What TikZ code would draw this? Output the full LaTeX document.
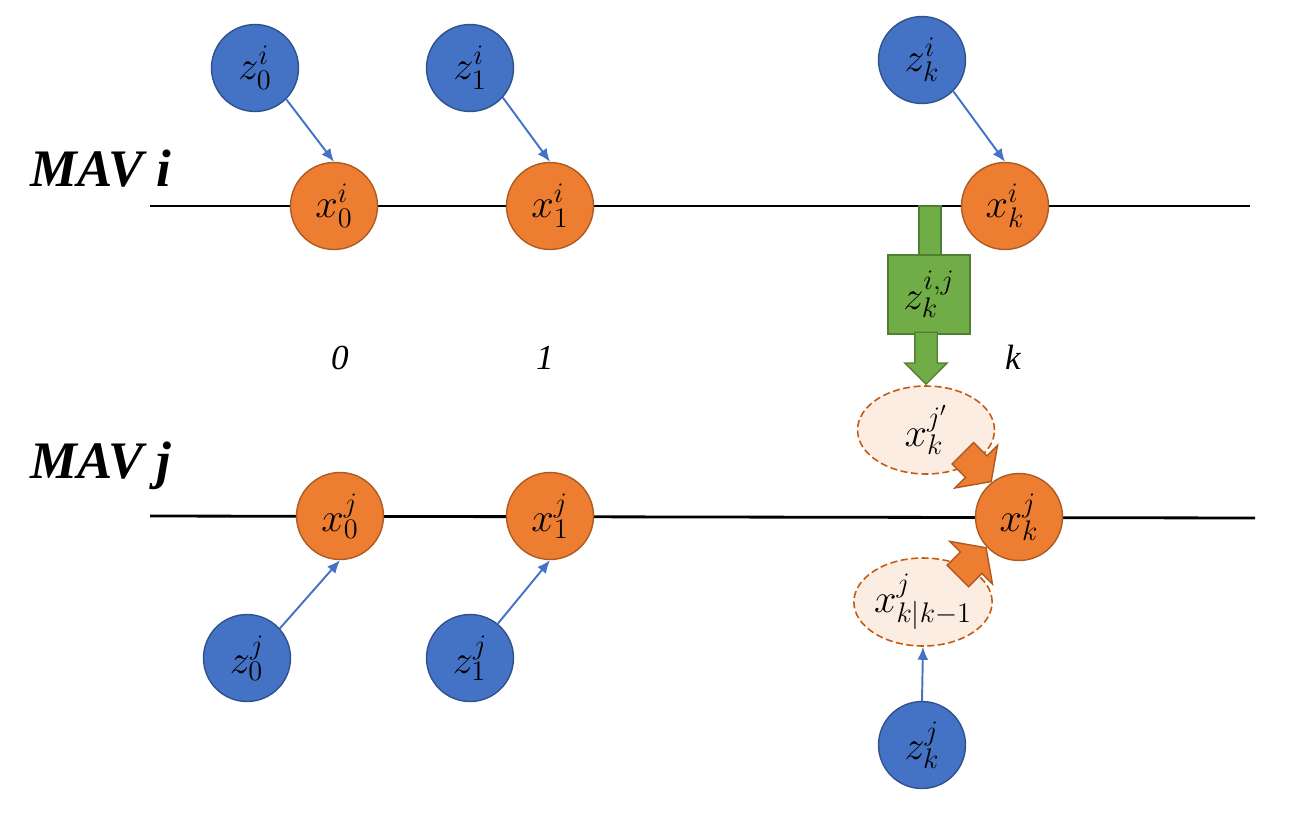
\RequirePackage{fix-cm}
\documentclass[tikz,border=0pt]{standalone}
\usepackage[no-math]{fontspec}
\newfontfamily\timesfont{Liberation Serif}
\usepackage{xcolor}
\usetikzlibrary{arrows.meta,positioning,shapes.geometric,shapes.arrows}

\definecolor{blueFill}{HTML}{4472C4}
\definecolor{blueDraw}{HTML}{2F528F}
\definecolor{orangeFill}{HTML}{ED7D31}
\definecolor{orangeDraw}{HTML}{AE5A21}
\definecolor{greenFill}{HTML}{70AD47}
\definecolor{greenDraw}{HTML}{507E32}
\definecolor{estFill}{HTML}{FCEDE2}
\definecolor{estDraw}{HTML}{C55A11}

\begin{document}
\begin{tikzpicture}[x=0.02cm,y=-0.02cm,
   every node/.style={font=\fontsize{23}{26}\selectfont},
   meas/.style={circle,draw=blueDraw,fill=blueFill,line width=0.8pt,
                minimum size=1.74cm,inner sep=0pt},
   state/.style={circle,draw=orangeDraw,fill=orangeFill,line width=0.8pt,
                 minimum size=1.74cm,inner sep=0pt},
   est/.style={ellipse,draw=estDraw,fill=estFill,line width=0.9pt,
               dash pattern=on 4pt off 2pt,minimum height=1.76cm,inner sep=0pt},
   link/.style={blueFill,line width=1.1pt,-{Latex[length=2.6mm,width=2.2mm]}},
   track/.style={line width=1.6pt},
   mav/.style={font=\timesfont\bfseries\itshape\fontsize{30}{34}\selectfont,
               anchor=base west,inner sep=0pt},
   tstep/.style={font=\timesfont\itshape\fontsize{20}{24}\selectfont,anchor=base},
   fuse/.style={single arrow,draw=orangeDraw,fill=orangeFill,line width=0.8pt,
                minimum height=0.8cm,single arrow head extend=0.3cm,
                single arrow tip angle=110,inner xsep=0pt,inner ysep=0.29cm,
                anchor=tip},
   share/.style={draw=greenDraw,fill=greenFill,line width=0.8pt}
]

\useasboundingbox (0,0) rectangle (1291,815);

% =========== time lines ============
\draw[track] (150,206) -- (1250,206);
\draw[track] (150,516) -- (1255,518);

\node[mav] (mavi) at (30,186) {MAV i};
\node[mav] (mavj) at (30,478) {MAV j};

\node[tstep] (t0) at (340,369) {0};
\node[tstep] (t1) at (545,369) {1};
\node[tstep] (tk) at (1013,369) {k};

% =========== MAV i ============
\node[meas]  (z0i) at (255,68)  {$z_0^i$};
\node[meas]  (z1i) at (470,68)  {$z_1^i$};
\node[meas]  (zki) at (922,60)  {$z_k^i$};
\node[state] (x0i) at (334,206) {$x_0^i$};
\node[state] (x1i) at (550,206) {$x_1^i$};
\node[state] (xki) at (1005,206) {$x_k^i$};

\draw[link] (z0i.-45) -- (x0i.north);
\draw[link] (z1i.-42) -- (x1i.north);
\draw[link] (zki.-45) -- (xki.north);

% =========== MAV j ============
\node[state] (x0j) at (340,516) {$x_0^j$};
\node[state] (x1j) at (550,516) {$x_1^j$};
\node[state] (xkj) at (1019,517) {$x_k^j$};
\node[meas]  (z0j) at (247,658) {$z_0^j$};
\node[meas]  (z1j) at (470,658) {$z_1^j$};
\node[meas]  (zkj) at (922,745) {$z_k^j$};

\draw[link] (z0j.42) -- (x0j.south);
\draw[link] (z1j.51) -- (x1j.south);

% estimates merged into x_k^j
\node[est,minimum width=2.74cm] (estA) at (926,430) {$x_k^{j'}$};
\node[est,minimum width=2.62cm] (estB) at (923,602) {$x_{k|k-1}^j$};
\draw[link] (zkj.north) -- (estB.south);

% =========== shared measurement i -> j ============
\filldraw[share] (919,206) rectangle (941,256);
\node[share,minimum width=1.64cm,minimum height=1.58cm,inner sep=0pt]
   (zij) at (929,294.5) {$z_k^{i,j}$};
\node[share,single arrow,minimum height=1.04cm,single arrow head extend=0.2cm,
      single arrow tip angle=90,inner xsep=0pt,inner ysep=0.21cm,
      rotate=-90,anchor=tip] (zijarrow) at (estA.north) {};

\node[fuse,rotate=-45] (fuseA) at (xkj.128) {};
\node[fuse,rotate=45]  (fuseB) at (xkj.223) {};

\end{tikzpicture}
\end{document}
